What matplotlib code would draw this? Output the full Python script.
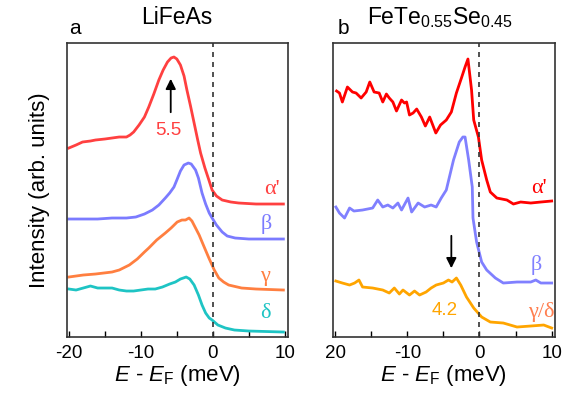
import numpy as np
from matplotlib import pyplot as plt

plt.rcParams['font.family'] = ['Liberation Sans', 'DejaVu Sans']
plt.rcParams['mathtext.fontset'] = 'custom'
plt.rcParams['mathtext.rm'] = 'Liberation Sans'
plt.rcParams['mathtext.it'] = 'Liberation Sans:italic'

# panel a: LiFeAs (energy in meV, intensity in arb. units)
a_alpha_E = [-20, -19, -18.1, -17, -16.3, -15, -14, -13, -12, -11.5, -11, -10.25, -9.5, -8.9, -8.2, -7.5, -6.9,
             -6.3, -5.8, -5.4, -5.0, -4.5, -4.0, -3.6, -3.1, -2.6, -2.1, -1.7, -1.1, -0.55, -0.1, 0.5, 1.3, 2.5,
             3.6, 6, 9.8]
a_alpha_I = [192, 195, 198, 199, 200, 201, 202, 203, 203, 205, 208, 215, 223, 233, 246, 260, 270,
             278, 282, 283, 281, 275, 264, 250, 234, 217, 200, 187, 172, 160, 150, 144, 140, 138,
             137, 136, 136]
a_beta_E = [-20, -16, -14, -12, -10.7, -9.5, -8.4, -7.5, -6.6, -6, -5.4, -5.0, -4.5, -4.0, -3.4, -3.0, -2.4,
            -2.0, -1.5, -1.0, -0.5, -0.1, 0.5, 1.3, 2, 3.1, 5, 9.8]
a_beta_I = [121, 121, 122, 122, 123, 126, 130, 135, 142, 147, 153, 160, 169, 175, 177, 176, 170,
            162, 147, 136, 127, 122, 115, 108, 104, 102, 101, 101]
a_gamma_E = [-20, -18, -16.3, -14, -13, -11.6, -10.5, -9.5, -8.9, -7.8, -6.6, -5.8, -4.95, -4.3, -3.8, -3.3,
             -2.9, -2.4, -1.9, -1.2, -0.55, 0.2, 0.83, 1.5, 2.2, 4, 6, 9.8]
a_gamma_I = [63, 65, 66, 68, 70, 75, 81, 88, 92, 100, 107, 112, 118, 120, 120, 122,
             119, 112, 105, 93, 82, 70, 62, 58, 55, 52, 51, 50]
a_delta_E = [-20, -19, -18, -17, -16, -15, -14, -13, -12, -11, -10, -9, -8, -7, -6, -5.2, -4.5, -3.7, -3.2,
             -2.6, -2.0, -1.5, -1.0, -0.5, -0.1, 0.7, 1.75, 3, 5, 9.8]
a_delta_I = [51, 50, 52, 54, 52, 52, 52, 50, 49, 49, 50, 51, 51, 53, 56, 58, 61, 63, 61,
             55, 45, 35, 27, 22, 20, 15, 12, 10, 9, 8]

# panel b: FeTe0.55Se0.45
b_alpha_E = [-19.8, -19.4, -19.0, -18.3, -17.6, -17.1, -16.4, -15.7, -15.2, -14.6, -13.9, -13.4, -12.9, -12.5,
             -12.0, -11.5, -10.8, -10.4, -10.1, -9.7, -9.2, -8.7, -8.05, -7.5, -6.9, -6.05, -5.4, -4.6, -3.9,
             -3.2, -2.5, -2.0, -1.6, -1.1, -0.8, -0.15, 0.3, 1.0, 1.5, 2.4, 3.8, 4.7, 5.7, 7.1, 8.5, 10]
b_alpha_I = [249, 247, 238, 253, 248, 247, 242, 248, 258, 248, 247, 238, 246, 242,
             238, 229, 240, 237, 238, 225, 227, 231, 223, 214, 223, 207, 215, 220, 228,
             247, 262, 273, 281, 250, 220, 203, 180, 160, 148, 142, 140, 136, 138, 137, 138, 139]
b_beta_E = [-19.9, -19.4, -18.7, -18.0, -17.4, -16.2, -14.8, -14.1, -13.4, -12.7, -12.0, -11.3, -10.8, -9.9,
            -9.4, -8.5, -7.6, -6.7, -6.0, -5.3, -4.6, -3.6, -2.8, -2.3, -2.0, -1.5, -1.0, -0.9, -0.4,
            0.3, 1.0, 2.2, 3.3, 5.2, 7.1, 7.8, 8.5, 10]
b_beta_I = [133, 127, 122, 132, 129, 130, 132, 140, 133, 135, 132, 137, 130, 142,
            128, 137, 133, 135, 133, 142, 150, 180, 198, 203, 203, 180, 153, 122, 98,
            78, 70, 62, 57, 58, 58, 60, 57, 57]
b_gd_E = [-19.9, -19.0, -18.0, -17.3, -16.7, -16.2, -14.8, -13.4, -12.5, -11.8, -11.1, -10.6, -9.7, -9.0,
          -8.3, -7.4, -6.7, -6.0, -5.0, -4.3, -3.8, -3.2, -2.6, -1.8, -0.8, 0.3, 1.5, 3.3, 5.2, 7.1, 8.9, 10]
b_gd_I = [59, 57, 55, 57, 60, 53, 52, 50, 47, 52, 46, 50, 45, 49,
          45, 48, 52, 55, 57, 60, 58, 62, 55, 43, 32, 23, 18, 17, 13, 14, 15, 12]

ticks = [-20, -15, -10, -5, 0, 5, 10]
tick_labels_a = ['-20', '', '-10', '', '0', '', '10']
tick_labels_b = ['20', '', '-10', '', '0', '', '10']

fig = plt.figure(figsize=(5.81, 3.96), dpi=100)
ax1 = fig.add_axes([0.1148, 0.1497, 0.381, 0.7417])
ax2 = fig.add_axes([0.5731, 0.1497, 0.382, 0.7417])

ax1.plot(a_alpha_E, a_alpha_I, color='#ff4040', lw=2)
ax1.plot(a_beta_E, a_beta_I, color='#7b7bff', lw=2)
ax1.plot(a_gamma_E, a_gamma_I, color='#ff7f40', lw=2)
ax1.plot(a_delta_E, a_delta_I, color='#1ec4c4', lw=2)

ax2.plot(b_alpha_E, b_alpha_I, color='#ff0000', lw=2)
ax2.plot(b_beta_E, b_beta_I, color='#8080ff', lw=2)
ax2.plot(b_gd_E, b_gd_I, color='#ffa500', lw=2)

greek = dict(family='Liberation Serif', fontsize=16, ha='center', va='center')
ax1.text(8.2, 151, "α'", color='#ff4040', **greek)
ax1.text(7.4, 116, 'β', color='#7b7bff', **greek)
ax1.text(7.3, 64, 'γ', color='#ff7f40', **greek)
ax1.text(7.3, 27, 'δ', color='#1ec4c4', **greek)
ax2.text(8.3, 152, "α'", color='#ff0000', **greek)
ax2.text(7.8, 75, 'β', color='#8080ff', **greek)
ax2.text(8.5, 28, 'γ/δ', color='#ff7f50', **greek)

ax1.annotate('', xy=(-5.85, 264), xytext=(-5.85, 225),
             arrowprops=dict(arrowstyle='-|>', color='black', lw=1.3, mutation_scale=15))
ax1.text(-6.2, 210, '5.5', color='#ff4040', fontsize=13.5, ha='center', va='center')
ax2.annotate('', xy=(-3.9, 69), xytext=(-3.9, 107),
             arrowprops=dict(arrowstyle='-|>', color='black', lw=1.3, mutation_scale=15))
ax2.text(-4.8, 30, '4.2', color='#ffa500', fontsize=13.5, ha='center', va='center')

for ax, labels in ((ax1, tick_labels_a), (ax2, tick_labels_b)):
    ax.axvline(0, color='#333333', lw=1.2, ls=(0, (3, 3)))
    ax.set_xlim(-20.3, 10.45)
    ax.set_ylim(3.3, 297)
    ax.set_xticks(ticks)
    ax.set_xticklabels(labels, fontsize=13.5)
    ax.tick_params(axis='x', direction='in', length=4, width=1, pad=6)
    ax.set_yticks([])
    for s in ax.spines.values():
        s.set_color('#333333')
        s.set_linewidth(1.2)
    ax.set_xlabel('$E$ - $E_\\mathrm{F}$ (meV)', fontsize=16, labelpad=1)

ax1.set_ylabel('Intensity (arb. units)', fontsize=16, labelpad=12)

fig.text(177 / 581, 1 - 18 / 396, 'LiFeAs', fontsize=16.5, ha='center', va='center')
fig.text(440 / 581, 1 - 18 / 396, 'FeTe$_{0.55}$Se$_{0.45}$', fontsize=16.5, ha='center', va='center')
fig.text(75 / 581, 1 - 28 / 396, 'a', fontsize=15, ha='center', va='center')
fig.text(343 / 581, 1 - 28 / 396, 'b', fontsize=15, ha='center', va='center')

fig.savefig('out.png', dpi=100)
